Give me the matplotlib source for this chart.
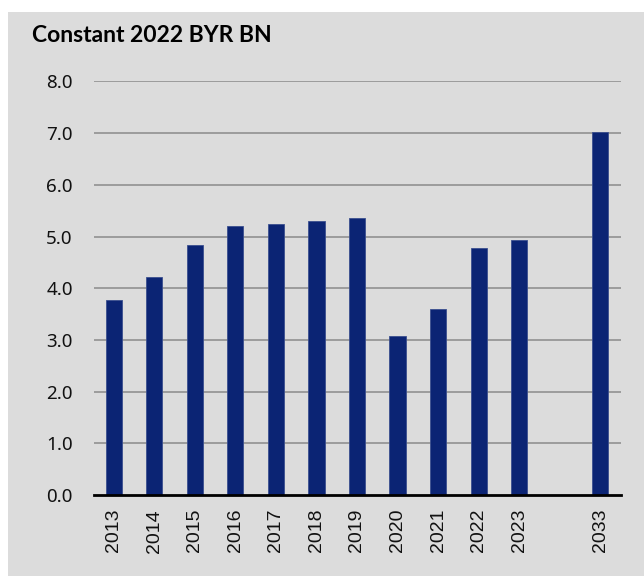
import matplotlib.pyplot as plt
from matplotlib.patches import Rectangle

# data
years = ['2013', '2014', '2015', '2016', '2017', '2018', '2019',
         '2020', '2021', '2022', '2023', '', '2033']
values = [3.77, 4.21, 4.83, 5.20, 5.25, 5.30, 5.35,
          3.08, 3.60, 4.77, 4.94, None, 7.03]

bg = '#dcdcdc'
navy = '#0b2474'

fig = plt.figure(figsize=(6.44, 5.76), dpi=100, facecolor='white')
# grey panel with a thin white margin on top and left
fig.patches.append(Rectangle((8 / 644, 0), 1, 1 - 12 / 576,
                             transform=fig.transFigure, facecolor=bg,
                             edgecolor='none', zorder=-10))

ax = fig.add_axes([93.5 / 644, 1 - 495 / 576, 527 / 644, 413.6 / 576])
ax.set_facecolor(bg)

pos = [i for i, v in enumerate(values) if v is not None]
hts = [v for v in values if v is not None]
ax.bar(pos, hts, width=0.4, color=navy, edgecolor='#3a4f8f', linewidth=0.6, zorder=3)

ax.set_xlim(-0.5, len(years) - 0.5)
ax.set_ylim(0, 8)
ax.set_yticks(range(0, 9))
ax.set_yticklabels([f'{v:.1f}' for v in range(0, 9)],
                   fontsize=13.5, family='Noto Sans', color='#111111')
ax.set_xticks(pos)
ax.set_xticklabels([years[i] for i in pos], rotation=90,
                   fontsize=14, family='Liberation Sans', color='#111111')
ax.tick_params(axis='y', length=0, pad=15)
ax.tick_params(axis='x', length=0, pad=10)

for y in range(1, 9):
    ax.axhline(y, color='#8a8a8a', linewidth=1.1, zorder=1)

for s in ['left', 'right', 'top']:
    ax.spines[s].set_visible(False)
ax.spines['bottom'].set_color('black')
ax.spines['bottom'].set_linewidth(2)
ax.spines['bottom'].set_zorder(4)

fig.text(32 / 644, 1 - 35 / 576, 'Constant 2022 BYR BN', fontsize=16.5,
         fontweight='bold', family='Lato', va='center', ha='left', color='black')

fig.savefig('out.png', dpi=100, facecolor='white')
